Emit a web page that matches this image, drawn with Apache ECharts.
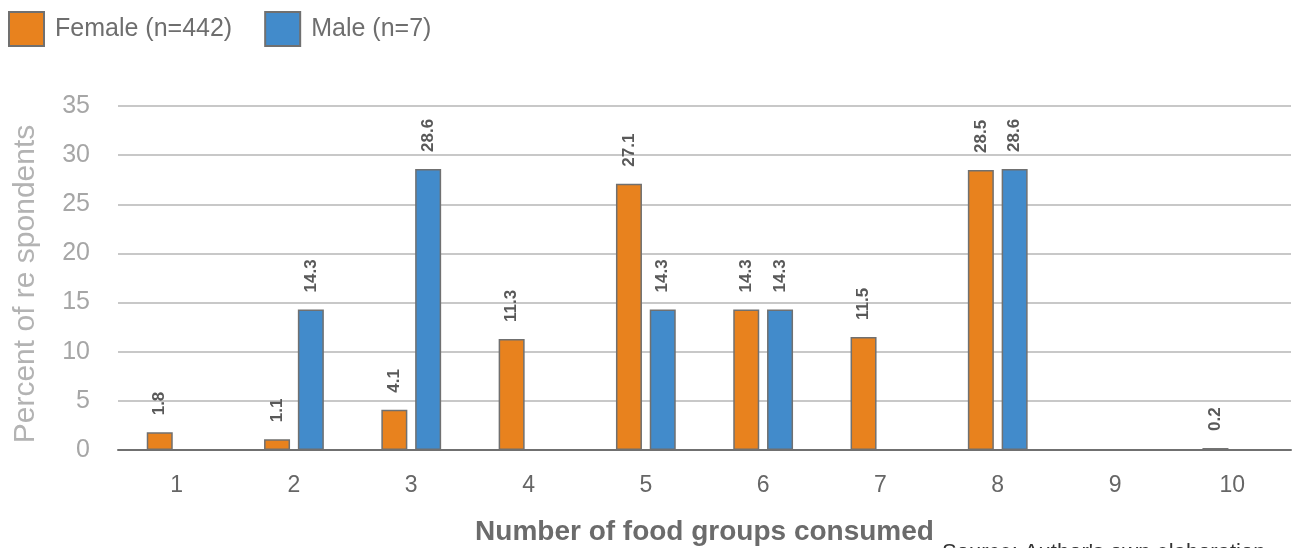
<!DOCTYPE html>
<html>
<head>
<meta charset="utf-8">
<script src="https://cdn.jsdelivr.net/npm/echarts@6/dist/echarts.min.js"></script>
<style>html,body{margin:0;padding:0;background:#fff}#c{width:1293px;height:548px}</style>
</head>
<body>
<div id="c"></div>
<script>
var categories = ['1','2','3','4','5','6','7','8','9','10'];
var femaleValues = [1.8, 1.1, 4.1, 11.3, 27.1, 14.3, 11.5, 28.5, null, 0.2];
var maleValues = [null, 14.3, 28.6, null, 14.3, 14.3, null, 28.6, null, null];
var seriesNames = ['Female (n=442)', 'Male (n=7)'];
var yTicks = {min: 0, max: 35, interval: 5};
var FONT = '"Liberation Sans", Arial, Helvetica, sans-serif';

var chart = echarts.init(document.getElementById('c'), null, {renderer: 'canvas'});
var labelCfg = {
  show: true, position: 'top', rotate: 90, align: 'left', verticalAlign: 'middle',
  distance: 17, color: '#595959', fontFamily: FONT, fontSize: 17, fontWeight: 'bold',
  formatter: function (p) { return p.value.toFixed(1); }
};
chart.setOption({
  animation: false,
  textStyle: {fontFamily: FONT},
  legend: {
    left: 8, top: 11, padding: 0, itemWidth: 35, itemHeight: 34, itemGap: 32, icon: 'rect',
    textStyle: {fontSize: 25, color: '#6e6e6e', fontFamily: FONT, padding: [10, 0, 0, 6]},
    data: seriesNames
  },
  grid: {left: 118, right: 2, top: 106, bottom: 98, outerBoundsMode: 'none', containLabel: false},
  xAxis: {
    type: 'category', data: categories,
    axisLine: {lineStyle: {color: '#707070', width: 2}},
    axisTick: {show: false},
    axisLabel: {color: '#666666', fontSize: 23, margin: 24, fontFamily: FONT},
    name: 'Number of food groups consumed', nameLocation: 'middle', nameGap: 68,
    nameTextStyle: {color: '#6b6b6b', fontSize: 28, fontWeight: 'bold', fontFamily: FONT}
  },
  yAxis: {
    type: 'value', min: yTicks.min, max: yTicks.max, interval: yTicks.interval,
    axisLine: {show: false}, axisTick: {show: false},
    splitLine: {lineStyle: {color: '#c8c8c8', width: 2}},
    axisLabel: {color: '#a6a6a6', fontSize: 25, margin: 28, fontFamily: FONT},
    name: 'Percent of re spondents', nameLocation: 'middle', nameGap: 77,
    nameTextStyle: {color: '#b3b3b3', fontSize: 30, fontFamily: FONT, padding: [0, 12, 0, 0]}
  },
  series: [
    {name: seriesNames[0], type: 'bar', data: femaleValues, barWidth: 26, barGap: '30%',
     itemStyle: {color: '#E8821E', borderColor: '#707070', borderWidth: 1.5}, label: labelCfg},
    {name: seriesNames[1], type: 'bar', data: maleValues, barWidth: 26,
     itemStyle: {color: '#428BCB', borderColor: '#707070', borderWidth: 1.5}, label: labelCfg}
  ],
  graphic: [{
    type: 'text', left: 942, top: 542,
    style: {text: "Source: Author's own elaboration", fill: '#333333', fontSize: 22, fontFamily: FONT}
  }]
});
</script>
</body>
</html>
